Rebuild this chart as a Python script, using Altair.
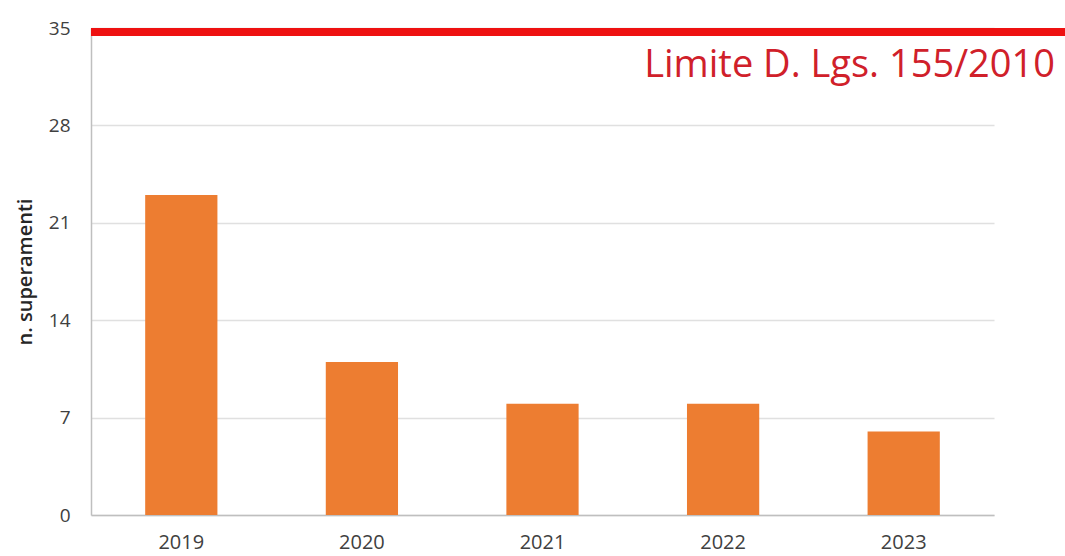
import altair as alt
import pandas as pd

years = ["2019", "2020", "2021", "2022", "2023"]
exceedances = [23, 11, 8, 8, 6]
limit_value = [35]
limit_label = ["Limite D. Lgs. 155/2010"]
y_ticks = [0, 7, 14, 21, 28, 35]

df = pd.DataFrame({"anno": years, "n": exceedances})
lim = pd.DataFrame({"v": limit_value, "label": limit_label})

FONT = "Open Sans"

bars = alt.Chart(df).mark_bar(color="#ED7D31").encode(
    x=alt.X("anno:N", sort=years, title=None,
            scale=alt.Scale(paddingInner=0.6, paddingOuter=0.3),
            axis=alt.Axis(labelAngle=0, labelFontSize=20, labelColor="#404040",
                          labelFont=FONT, labelPadding=17, ticks=False, grid=False,
                          domainColor="#BFBFBF", domainWidth=1.5)),
    y=alt.Y("n:Q", title="n. superamenti",
            scale=alt.Scale(domain=[0, 35], nice=False),
            axis=alt.Axis(values=y_ticks, labelFontSize=19, labelColor="#404040",
                          labelFont=FONT, labelPadding=21, ticks=False,
                          domainColor="#BFBFBF", domainWidth=1.5,
                          gridColor="#E0E0E0", gridWidth=1.5,
                          titleFont=FONT, titleFontSize=20, titleFontWeight=600,
                          titleColor="#262626", titlePadding=13)),
)

rule = alt.Chart(lim).mark_rule(color="#EE1111", strokeWidth=8, yOffset=4).encode(
    y=alt.Y("v:Q"),
    x=alt.value(0),
    x2=alt.value(974),
)

text = alt.Chart(lim).mark_text(
    color="#D0202A", font=FONT, fontSize=38, align="right", baseline="alphabetic"
).encode(
    text="label:N",
    x=alt.value(964),
    y=alt.value(49),
)

chart = alt.layer(bars, rule, text).properties(
    width=903, height=487,
    autosize=alt.AutoSizeParams(type="none"),
    padding={"left": 91, "top": 28, "right": 71, "bottom": 41},
    view=alt.ViewBackground(stroke=None, strokeWidth=0),
).configure_view(strokeWidth=0, stroke=None).configure_axisX(grid=False).configure(background="white")

chart.save("out.html", embed_options={"renderer": "svg", "actions": False})
